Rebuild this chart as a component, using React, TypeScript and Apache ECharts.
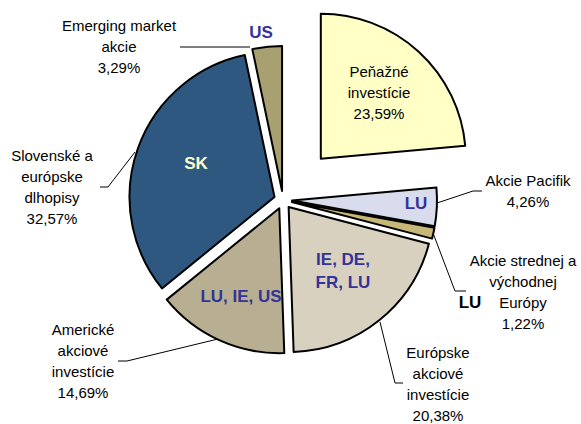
import React, { useEffect, useRef } from 'react';
import * as echarts from 'echarts';

// ---- data ----
const categories = [
  'Peňažné\ninvestície',
  'Akcie Pacifik',
  'Akcie strednej a\nvýchodnej\nEurópy',
  'Európske\nakciové\ninvestície',
  'Americké\nakciové\ninvestície',
  'Slovenské a\neurópske\ndlhopisy',
  'Emerging market\nakcie',
];
const values = [23.59, 4.26, 1.22, 20.38, 14.69, 32.57, 3.29];
const regionCodes = ['', 'LU', 'LU', 'IE, DE,\nFR, LU', 'LU, IE, US', 'SK', 'US'];

// ---- styles ----
const sliceColors = ['#FFFFC6', '#D8DCEC', '#C8B878', '#D9D1C0', '#B8AE92', '#2E5880', '#A8A070'];
const codeColors = ['#333399', '#333399', '#000000', '#333399', '#333399', '#FFFFCC', '#333399'];
const labelPos: number[][] = [[379, 92], [528, 191], [523, 292], [438, 384], [83, 361], [52, 187], [119, 46]];
const leaderLines: (number[][] | null)[] = [
  null,
  [[437, 203], [473, 191], [482, 191]],
  [[433, 233], [455, 291], [466, 291]],
  [[380, 322], [395, 383], [403, 383]],
  [[218, 339], [127, 361], [118, 361]],
  [[135, 152], [108, 187], [100, 187]],
  [[250, 47], [180, 47]],
];
const codePos: number[][] = [[0, 0], [416, 203], [470, 302], [343, 271], [241, 296], [196, 163], [261, 32]];

const FONT = '"Liberation Sans", Arial, sans-serif';
const CENTER = [283, 200];
const RADIUS = 145;
const HIDDEN = { color: 'rgba(0,0,0,0)', borderWidth: 0 };

const fmt = (v: number) => v.toFixed(2).replace('.', ',') + '%';

export default function App() {
  const ref = useRef<HTMLDivElement>(null);
  useEffect(() => {
    if (!ref.current) return;
    const chart = echarts.init(ref.current, undefined, { renderer: 'svg' });
    const base = {
      type: 'pie',
      center: CENTER,
      radius: RADIUS,
      startAngle: 90,
      clockwise: true,
      avoidLabelOverlap: false,
      emphasis: { disabled: true },
      itemStyle: { borderColor: '#000', borderWidth: 2 },
    };
    const sliceSeries = (offset: number, visible: (i: number) => boolean) => ({
      ...base,
      selectedMode: 'multiple',
      selectedOffset: offset,
      silent: true,
      label: { show: false },
      labelLine: { show: false },
      data: values.map((v, i) => ({
        name: categories[i],
        value: v,
        selected: true,
        itemStyle: visible(i) ? { color: sliceColors[i] } : HIDDEN,
      })),
    });
    chart.setOption({
      animation: false,
      backgroundColor: '#fff',
      series: [
        sliceSeries(9, (i) => i !== 0),
        sliceSeries(56, (i) => i === 0),
        {
          ...base,
          name: 'labels',
          silent: true,
          itemStyle: HIDDEN,
          label: {
            position: 'outside',
            fontFamily: FONT,
            fontSize: 15,
            lineHeight: 21,
            color: '#000',
            formatter: (p: any) => p.name + '\n' + fmt(p.value),
          },
          labelLine: { show: true, lineStyle: { color: '#000', width: 1 } },
          labelLayout: (p: any) => ({
            x: labelPos[p.dataIndex][0],
            y: labelPos[p.dataIndex][1],
            align: 'center',
            verticalAlign: 'middle',
            labelLinePoints: leaderLines[p.dataIndex] || undefined,
          }),
          data: values.map((v, i) => ({
            name: categories[i],
            value: v,
            labelLine: { show: leaderLines[i] !== null },
          })),
        },
        {
          ...base,
          name: 'codes',
          silent: true,
          itemStyle: HIDDEN,
          label: {
            position: 'inside',
            fontFamily: FONT,
            fontSize: 17,
            fontWeight: 'bold',
            lineHeight: 23,
            formatter: (p: any) => regionCodes[p.dataIndex],
          },
          labelLine: { show: false },
          labelLayout: (p: any) => ({
            x: codePos[p.dataIndex][0],
            y: codePos[p.dataIndex][1],
            align: 'center',
            verticalAlign: 'middle',
          }),
          data: values.map((v, i) => ({
            name: categories[i],
            value: v,
            label: { show: regionCodes[i] !== '', color: codeColors[i] },
          })),
        },
      ],
    } as any);
    return () => chart.dispose();
  }, []);
  return (
    <div
      ref={ref}
      style={{ position: 'absolute', left: 0, top: 0, width: 581, height: 424, background: '#fff' }}
    />
  );
}
